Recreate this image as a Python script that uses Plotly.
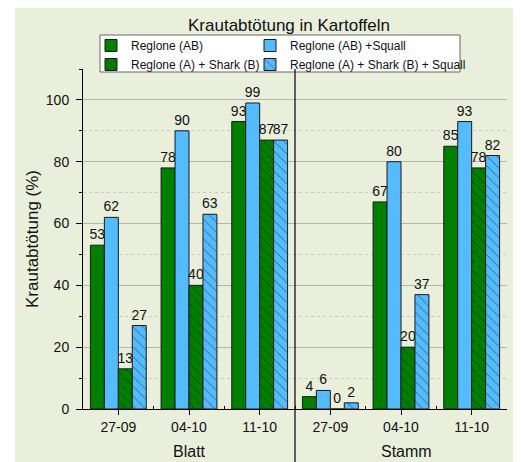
import plotly.graph_objects as go

categories = ["27-09", "04-10", "11-10", "27-09", "04-10", "11-10"]
groups = ["Blatt", "Stamm"]
series_names = ["Reglone (AB)", "Reglone (AB) +Squall",
                "Reglone (A) + Shark (B)", "Reglone (A) + Shark (B) + Squall"]
reglone_ab = [53, 78, 93, 4, 67, 85]
reglone_ab_squall = [62, 90, 99, 6, 80, 93]
reglone_shark = [13, 40, 87, 0, 20, 78]
reglone_shark_squall = [27, 63, 87, 2, 37, 82]
y_ticks = [0, 20, 40, 60, 80, 100]

GREEN = "#007F00"
BLUE = "#55BBFF"
BG = "#E9EFDB"

xpos = list(range(len(categories)))
series = [reglone_ab, reglone_ab_squall, reglone_shark, reglone_shark_squall]
colors = [GREEN, BLUE, GREEN, BLUE]
patterns = ["", "", "\\", "\\"]
legends = ["legend", "legend2", "legend", "legend2"]

# plot area in picture pixels (page has an 8px body margin)
PX0, PX1, PY0, PY1 = 83, 507, 69, 409
PW, PH = PX1 - PX0, PY1 - PY0


def px_x(X):
    return (X - PX0) / PW


def px_y(Y):
    return (PY1 - Y) / PH


fig = go.Figure()
for name, vals, col, pat, lg in zip(series_names, series, colors, patterns, legends):
    fig.add_trace(go.Bar(
        x=xpos, y=vals, name=name, legend=lg,
        marker=dict(color=col, line=dict(color="#1a1a1a", width=1),
                    pattern=dict(shape=pat, fgcolor="#111111", size=7, solidity=0.14)),
        text=vals, textposition="outside", cliponaxis=False, constraintext="none",
        textfont=dict(size=14, color="#111111"),
    ))

legend_style = dict(orientation="v", xanchor="left", yanchor="top",
                    bgcolor="rgba(0,0,0,0)", borderwidth=0,
                    font=dict(size=12, color="#111111"), tracegroupgap=0,
                    itemwidth=30, traceorder="normal")

W, H = 513, 454
fig.update_layout(
    width=W, height=H,
    barmode="group", bargap=0.21, bargroupgap=0,
    paper_bgcolor="white", plot_bgcolor=BG,
    margin=dict(l=PX0 - 8, r=W - (PX1 - 8), t=PY0 - 8, b=H - (PY1 - 8), autoexpand=False),
    font=dict(family="Liberation Sans, Arial, sans-serif", color="#111111"),
    title=dict(text="Krautabtötung in Kartoffeln", x=(289 - 8) / W, xanchor="center",
               y=1 - (25 - 8) / H, yanchor="middle", yref="container",
               font=dict(size=17, color="#111111")),
    legend=dict(x=px_x(91), y=px_y(31), **legend_style),
    legend2=dict(x=px_x(250), y=px_y(31), **legend_style),
    showlegend=True,
)

fig.update_xaxes(
    range=[-0.5, 5.5], tickmode="array", tickvals=xpos, ticktext=categories,
    showline=True, linecolor="black", linewidth=1, showgrid=False, zeroline=False,
    ticks="outside", ticklen=5, tickcolor="black", tickfont=dict(size=14),
    minor=dict(tickmode="array", tickvals=[0.5, 1.5, 2.5, 3.5, 4.5], ticks="inside",
               ticklen=3, tickcolor="black", showgrid=False),
)
fig.update_yaxes(
    range=[0, 110], tickmode="array", tickvals=y_ticks,
    showline=True, linecolor="black", linewidth=1, zeroline=False,
    showgrid=True, gridcolor="#B4B4AC", gridwidth=1,
    ticks="outside", ticklen=6, tickcolor="black", tickfont=dict(size=14),
    ticklabelstandoff=4,
    title=dict(text="Krautabtötung (%)", font=dict(size=17), standoff=2),
    minor=dict(dtick=10, tick0=0, ticks="outside", ticklen=3, tickcolor="black",
               showgrid=True, gridcolor="#C8CCC0", griddash="dot", gridwidth=1),
)

# background panel (white margin at left)
fig.add_shape(type="rect", xref="paper", yref="paper",
              x0=px_x(15), x1=px_x(530), y0=px_y(480), y1=px_y(0),
              fillcolor=BG, line=dict(width=0), layer="below")
# legend box
fig.add_shape(type="rect", xref="paper", yref="paper",
              x0=px_x(100), x1=px_x(460), y0=px_y(72), y1=px_y(35),
              fillcolor="white", line=dict(color="#666666", width=1), layer="above")
# divider between groups
fig.add_shape(type="line", xref="paper", yref="paper", x0=0.5, x1=0.5,
              y0=1, y1=px_y(462), line=dict(color="black", width=1.2))

fig.add_annotation(text=groups[0], x=1, xref="x", y=px_y(451), yref="paper",
                   yanchor="middle", xanchor="center",
                   showarrow=False, font=dict(size=16))
fig.add_annotation(text=groups[1], x=4.08, xref="x", y=px_y(451), yref="paper",
                   yanchor="middle", xanchor="center",
                   showarrow=False, font=dict(size=16))

fig.write_html("out.html")
